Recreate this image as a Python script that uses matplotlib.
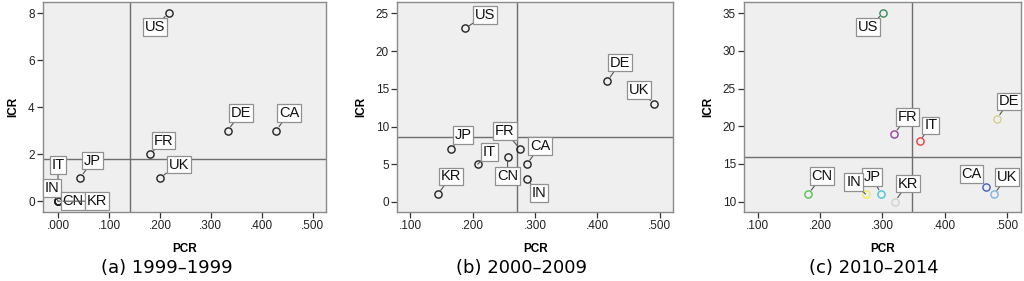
import numpy as np
import matplotlib
matplotlib.use("Agg")
import matplotlib.pyplot as plt
from matplotlib.ticker import FuncFormatter

countries = ["US", "DE", "CA", "FR", "UK", "JP", "IT", "IN", "CN", "KR"]

# (a) 1999-1999
pcr_a = [0.217, 0.333, 0.428, 0.181, 0.200, 0.044, 0.000, 0.000, 0.000, 0.000]
icr_a = [8, 3, 3, 2, 1, 1, 0, 0, 0, 0]

# (b) 2000-2009
pcr_b = [0.188, 0.416, 0.287, 0.276, 0.491, 0.165, 0.208, 0.287, 0.256, 0.144]
icr_b = [23, 16, 5, 7, 13, 7, 5, 3, 6, 1]

# (c) 2010-2014
pcr_c = [0.3015, 0.484, 0.467, 0.319, 0.479, 0.298, 0.360, 0.273, 0.181, 0.320]
icr_c = [35, 21, 12, 19, 11, 11, 18, 11, 11, 10]

titles = ["(a) 1999\u20131999", "(b) 2000\u20132009", "(c) 2010\u20132014"]
x_ticks = [[0.0, 0.1, 0.2, 0.3, 0.4, 0.5],
           [0.1, 0.2, 0.3, 0.4, 0.5],
           [0.1, 0.2, 0.3, 0.4, 0.5]]
y_ticks = [[0, 2, 4, 6, 8],
           [0, 5, 10, 15, 20, 25],
           [10, 15, 20, 25, 30, 35]]

# layout / style (pixels on a 1024x281 canvas)
W, H = 1024, 281
axes_px = [(43, 283), (397.3, 276), (744.3, 276.4)]
xlims = [(-0.0295, 0.526), (0.079, 0.522), (0.0785, 0.522)]
ylims = [(-0.46, 8.47), (-1.33, 26.5), (8.62, 36.5)]
title_x = [166.7, 521.7, 874]

# label offsets in pixels (dx right, dy up), same order as countries
offsets = [
    {"US": (-14, -14), "DE": (13, 17.5), "CA": (13, 17.5), "FR": (13, 13.5),
     "UK": (19, 13), "JP": (12, 17), "IT": (0, 36), "IN": (-6, 13),
     "CN": (15, 0), "KR": (39, 0)},
    {"US": (20, 13.5), "DE": (13, 18.5), "CA": (13, 18), "FR": (-15, 18),
     "UK": (-15, 14), "JP": (12, 14), "IT": (12, 12), "IN": (12, -13.5),
     "CN": (0, -19.5), "KR": (13, 18)},
    {"US": (-15, -13.5), "DE": (12, 17.5), "CA": (-15, 12.5), "FR": (13, 17),
     "UK": (13.5, 17), "JP": (-9, 17), "IT": (11, 16), "IN": (-12, 12),
     "CN": (14, 18), "KR": (13, 18)},
]

colors_c = {"US": "#3b8a5c", "DE": "#d6cf8c", "CA": "#3f5fc2", "FR": "#9b3fa3",
            "UK": "#82b2e2", "JP": "#45c6d2", "IT": "#ee3d3d", "IN": "#eeee55",
            "CN": "#52c352", "KR": "#d2d2d2"}

datasets = [(pcr_a, icr_a), (pcr_b, icr_b), (pcr_c, icr_c)]

fig = plt.figure(figsize=(W / 100, H / 100), dpi=100)
plt.rcParams["font.family"] = ["Liberation Sans", "DejaVu Sans"]

for i, (pcr, icr) in enumerate(datasets):
    left, width = axes_px[i]
    ax = fig.add_axes([left / W, 1 - 212 / H, width / W, 210 / H])
    ax.set_facecolor("#efefef")
    for s in ax.spines.values():
        s.set_color("#8a8a8a")
        s.set_linewidth(1.0)

    ax.axvline(np.mean(pcr), color="#6e6e6e", lw=1.0, zorder=1)
    ax.axhline(np.mean(icr), color="#6e6e6e", lw=1.0, zorder=1)

    for j, c in enumerate(countries):
        col = colors_c[c] if i == 2 else "#222222"
        ax.plot(pcr[j], icr[j], "o", ms=5.2, mfc="none", mec=col, mew=1.0, zorder=3)
        dx, dy = offsets[i][c]
        ax.annotate(c, (pcr[j], icr[j]), xytext=(dx, dy), textcoords="offset pixels",
                    ha="center", va="center", fontsize=10.5, color="#111111",
                    bbox=dict(boxstyle="square,pad=0.12", fc="white", ec="#909090", lw=0.9),
                    arrowprops=dict(arrowstyle="-", color="#555555", lw=0.8,
                                    shrinkA=0, shrinkB=3.5),
                    zorder=4)

    ax.set_xlim(*xlims[i])
    ax.set_ylim(*ylims[i])
    ax.set_xticks(x_ticks[i])
    ax.set_yticks(y_ticks[i])
    ax.xaxis.set_major_formatter(FuncFormatter(lambda v, p: ("%.3f" % v)[1:]))
    ax.tick_params(axis="both", direction="out", length=4, width=0.9, color="#333333",
                   labelsize=8.5, labelcolor="#222222", pad=2)
    ax.set_xlabel("PCR", fontsize=8.5, fontweight="bold", labelpad=8)
    ax.set_ylabel("ICR", fontsize=8.5, fontweight="bold", labelpad=6)

    fig.text(title_x[i] / W, 1 - 268 / H, titles[i], ha="center", va="center",
             fontsize=13, family="DejaVu Sans")

fig.savefig("out.png", dpi=100)
